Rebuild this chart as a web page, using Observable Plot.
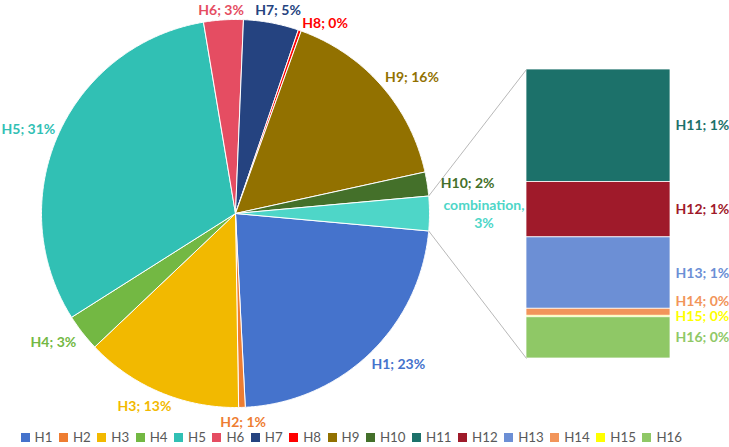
<!DOCTYPE html>
<html><head><meta charset="utf-8">
<script src="https://cdn.jsdelivr.net/npm/d3@7"></script>
<script src="https://cdn.jsdelivr.net/npm/@observablehq/plot@0.6"></script>
<style>
body{margin:0;background:#fff;}
#chart{width:729px;}
.lg-swatches-wrap{justify-content:center !important;min-height:30px !important;margin:0 !important;padding-right:20px;}
.lg-swatch{margin-right:6.5px !important;}
.lg-swatch > svg{margin-right:5px !important;}
</style></head><body><div id="chart"></div>
<script>
// ---- data ----
const pieNames = ["H1","H2","H3","H4","H5","H6","H7","H8","H9","H10"];
const pieValues = [22.8,0.55,13.2,3.1,31.4,3.3,4.6,0.25,16.1,2.0];
const pieColors = ["#4573CC","#EE7D31","#F2B900","#73B843","#31C0B4","#E54D62","#254380","#FF0000","#927100","#44702A"];
const barNames = ["H11","H12","H13","H14","H15","H16"];
const barValues = [1.12,0.55,0.71,0.07,0.015,0.41];
const barColors = ["#1C716A","#9F1A2A","#6C8FD5","#F2955A","#FFFF00","#8FC866"];
const otherName = "combination";
const otherColor = "#4ED6C8";

// ---- layout (pixels) ----
const W = 729, H = 422, CX = 235, CY = 213, R = 194;
const BAR_LEFT = 526, BAR_RIGHT = 670, BAR_TOP = 69, BAR_BOTTOM = 358;
const ux = px => (px - CX) / R, uy = py => (CY - py) / R;

const otherValue = d3.sum(barValues);
const total = d3.sum(pieValues) + otherValue;
const deg = v => v / total * 360;
const pct = v => Math.round(v / total * 100);

let a = 90 + deg(otherValue) / 2;
const slices = pieNames.map((n, i) => { const a0 = a; a += deg(pieValues[i]); return {name: n, value: pieValues[i], a0, a1: a}; });
slices.push({name: otherName, value: otherValue, a0: a, a1: a + deg(otherValue)});

const rad = d => d * Math.PI / 180;
const pts = [];
for (const s of slices) {
  const n = Math.max(2, Math.ceil((s.a1 - s.a0) / 0.4));
  pts.push({name: s.name, x: 0, y: 0});
  for (let k = 0; k <= n; k++) { const t = rad(s.a0 + (s.a1 - s.a0) * k / n); pts.push({name: s.name, x: Math.sin(t), y: Math.cos(t)}); }
  pts.push({name: s.name, x: 0, y: 0});
}

// bar segments
const barScale = (BAR_BOTTOM - BAR_TOP) / otherValue;
let cum = 0;
const segs = barNames.map((n, i) => { const t = BAR_TOP + cum * barScale; cum += barValues[i]; const b = BAR_TOP + cum * barScale; return {name: n, value: barValues[i], top: t, bottom: b}; });

// connectors
const other = slices[slices.length - 1];
const links = [
  {x1: Math.sin(rad(other.a0)), y1: Math.cos(rad(other.a0)), x2: ux(BAR_LEFT), y2: uy(BAR_TOP)},
  {x1: Math.sin(rad(other.a1)), y1: Math.cos(rad(other.a1)), x2: ux(BAR_LEFT), y2: uy(BAR_BOTTOM)}
];

// labels
const FONT = 14;
const ctx = document.createElement("canvas").getContext("2d");
ctx.font = `bold ${FONT}px Lato`;
const tw = s => Math.max(...s.split("\n").map(l => ctx.measureText(l).width));
const pieLabels = [];
let prev = null;
const overlap = (A, B) => A[0] < B[2] && B[0] < A[2] && A[1] < B[3] && B[1] < A[3];
for (const s of slices) {
  const text = s.name === otherName ? `${otherName},\n${pct(s.value)}%` : `${s.name}; ${pct(s.value)}%`;
  const lines = text.split("\n").length;
  const hw = tw(text) / 2, hh = (lines * 18 - 4) / 2;
  let th = (s.a0 + s.a1) / 2;
  const place = th => {
    const t = rad(th);
    let px = CX + Math.sin(t) * (R + hw + 14), py = CY - Math.cos(t) * (R + hh + 7);
    px = Math.min(Math.max(px, hw + 1), W - hw - 1);
    py = Math.max(py, hh + 2);
    return {px, py, box: [px - hw, py - hh, px + hw, py + hh]};
  };
  let p = place(th);
  let guard = 0;
  while (prev && overlap(prev, p.box) && guard++ < 100) { th += 0.5; p = place(th); }
  prev = p.box;
  pieLabels.push({name: s.name, text, x: ux(p.px), y: uy(p.py)});
}
const barLabels = segs.map(s => ({name: s.name, text: `${s.name}; ${pct(s.value)}%`, py: (s.top + s.bottom) / 2}));
for (let i = barLabels.length - 2; i >= 0; i--) barLabels[i].py = Math.min(barLabels[i].py, barLabels[i + 1].py - 15.5);
barLabels.forEach(d => { d.x = ux(BAR_RIGHT + 5); d.y = uy(d.py); });

const allNames = [...pieNames, ...barNames, otherName];
const allColors = [...pieColors, ...barColors, otherColor];

const chart = Plot.plot({
  width: W, height: H, margin: 0,
  x: {domain: [ux(0), ux(W)], axis: null},
  y: {domain: [uy(H), uy(0)], axis: null},
  color: {domain: allNames, range: allColors},
  style: {background: "white", overflow: "visible"},
  marks: [
    Plot.line(pts, {x: "x", y: "y", z: "name", fill: "name", stroke: "white", strokeWidth: 1, strokeLinejoin: "round"}),
    Plot.rect(segs, {x1: () => ux(BAR_LEFT), x2: () => ux(BAR_RIGHT), y1: d => uy(d.top), y2: d => uy(d.bottom), fill: "name", stroke: "white", strokeWidth: 0.75}),
    Plot.link(links, {x1: "x1", y1: "y1", x2: "x2", y2: "y2", stroke: "#A6A6A6", strokeWidth: 0.8}),
    Plot.text(pieLabels, {x: "x", y: "y", text: "text", fill: "name", fontSize: FONT, fontWeight: "bold", fontFamily: "Lato", lineHeight: 1.3}),
    Plot.text(barLabels, {x: "x", y: "y", text: "text", fill: "name", fontSize: FONT, fontWeight: "bold", fontFamily: "Lato", textAnchor: "start"})
  ]
});

const legend = Plot.legend({
  color: {domain: [...pieNames, ...barNames], range: [...pieColors, ...barColors]},
  legend: "swatches", swatchSize: 9, className: "lg",
  style: {fontFamily: "Lato", fontSize: "13.3px", color: "#595959", margin: "0"}
});

const root = document.getElementById("chart");
root.appendChild(chart);
root.appendChild(legend);
</script></body></html>
